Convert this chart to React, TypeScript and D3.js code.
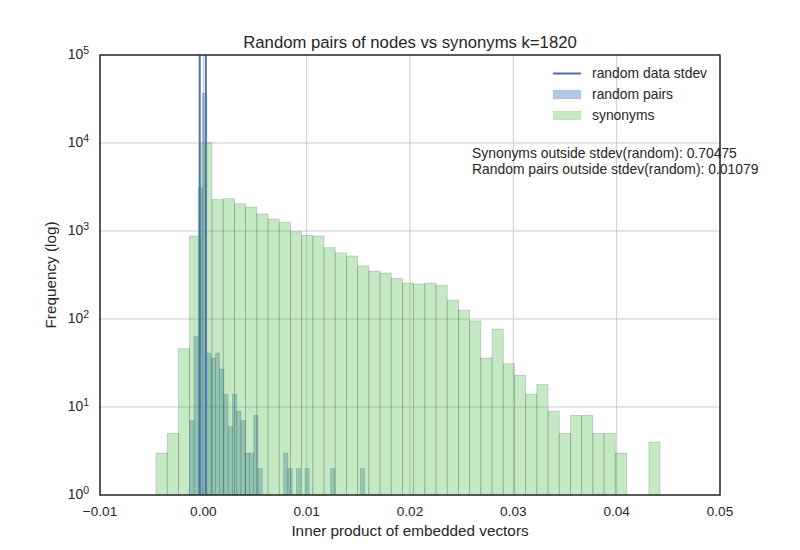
import React from "react";
import * as d3 from "d3";

const synStart = -0.00458;
const synWidth = 0.001084;
const synCounts = [3, 5, 46, 877, 10050, 2270, 2330, 2040, 1870, 1560, 1370, 1260, 980, 890, 877, 646, 564, 520, 401, 351, 333, 290, 256, 250, 256, 242, 164, 126, 95, 36, 77, 31, 23, 14, 18, 9, 5, 8, 8, 5, 5, 3, 0, 0, 4];

const rndStart = -0.001316;
const rndWidth = 0.000413;
const rndCounts = [7, 63, 3100, 36700, 41, 36, 41, 27, 14, 6, 14, 9, 7, 3, 3, 8, 2, 0, 0, 0, 0, 0, 3, 2, 0, 2, 0, 2, 0, 0, 0, 0, 0, 2, 0, 0, 0, 0, 0, 0, 2];

const stdevLines = [-0.00035, 0.00024];

const xTicks = [-0.01, 0.0, 0.01, 0.02, 0.03, 0.04, 0.05];
const xTickLabels = ["\u22120.01", "0.00", "0.01", "0.02", "0.03", "0.04", "0.05"];
const yExponents = [0, 1, 2, 3, 4, 5];

const legendItems = ["random data stdev", "random pairs", "synonyms"];
const annotations = [
  "Synonyms outside stdev(random): 0.70475",
  "Random pairs outside stdev(random): 0.01079",
];

const W = 800, H = 550;
const left = 100, right = 720, top = 55, bottom = 495;
const font = "'Liberation Sans', Arial, sans-serif";
const textColor = "#262626";

export default function App() {
  const x = d3.scaleLinear().domain([-0.01, 0.05]).range([left, right]);
  const y = d3.scaleLog().domain([1, 1e5]).range([bottom, top]);

  const bars = (start: number, w: number, counts: number[]) =>
    counts
      .map((c, i) => ({ c, x0: x(start + i * w), x1: x(start + (i + 1) * w) }))
      .filter((b) => b.c > 0);

  const rnd = bars(rndStart, rndWidth, rndCounts);
  const syn = bars(synStart, synWidth, synCounts);

  return (
    <svg width={W} height={H} style={{ position: "absolute", left: 0, top: 0, background: "#fff" }} fontFamily={font}>
      <rect x={0} y={0} width={W} height={H} fill="#fff" />
      <defs>
        <clipPath id="plot">
          <rect x={left} y={top} width={right - left} height={bottom - top} />
        </clipPath>
      </defs>
      <g stroke="#cbcbcb" strokeWidth={1}>
        {xTicks.map((t, i) => (
          <line key={"gx" + i} x1={x(t)} x2={x(t)} y1={top} y2={bottom} />
        ))}
        {yExponents.map((e) => (
          <line key={"gy" + e} x1={left} x2={right} y1={y(Math.pow(10, e))} y2={y(Math.pow(10, e))} />
        ))}
      </g>
      <g clipPath="url(#plot)">
        {rnd.map((b, i) => (
          <rect key={"r" + i} x={b.x0} width={b.x1 - b.x0} y={y(b.c)} height={bottom - y(b.c)}
            fill="rgb(29,95,189)" fillOpacity={0.35} stroke="rgba(0,0,0,0.2)" strokeWidth={0.8} />
        ))}
        {syn.map((b, i) => (
          <rect key={"s" + i} x={b.x0} width={b.x1 - b.x0} y={y(b.c)} height={bottom - y(b.c)}
            fill="rgb(89,192,86)" fillOpacity={0.35} stroke="rgba(0,0,0,0.18)" strokeWidth={0.8} />
        ))}
        {stdevLines.map((v, i) => (
          <line key={"v" + i} x1={x(v)} x2={x(v)} y1={top} y2={bottom} stroke="#4c72b0" strokeWidth={2} />
        ))}
      </g>
      <g fontSize={13.9} fill={textColor}>
        <line x1={553} x2={581} y1={73.5} y2={73.5} stroke="#4c72b0" strokeWidth={2} />
        <rect x={553} y={90} width={28} height={9} fill="rgb(29,95,189)" fillOpacity={0.35} stroke="rgba(0,0,0,0.1)" strokeWidth={0.5} />
        <rect x={553} y={111} width={28} height={9} fill="rgb(89,192,86)" fillOpacity={0.35} stroke="rgba(0,0,0,0.1)" strokeWidth={0.5} />
        {legendItems.map((t, i) => (
          <text key={"l" + i} x={592} y={73.5 + i * 21} dy="0.35em">{t}</text>
        ))}
      </g>
      <g fontSize={13.9} fill={textColor}>
        {annotations.map((t, i) => (
          <text key={"a" + i} x={472} y={153 + i * 16} dy="0.35em">{t}</text>
        ))}
      </g>
      <rect x={left} y={top} width={right - left} height={bottom - top} fill="none" stroke="#2a2a2a" strokeWidth={1.5} />
      <g fontSize={13.6} fill={textColor} textAnchor="middle">
        {xTicks.map((t, i) => (
          <text key={"xt" + i} x={x(t)} y={511} dy="0.35em">{xTickLabels[i]}</text>
        ))}
      </g>
      <g fontSize={13.9} fill={textColor} textAnchor="end">
        {yExponents.map((e) => (
          <text key={"yt" + e} x={89} y={y(Math.pow(10, e)) - 1} dy="0.35em">
            10<tspan fontSize={10.5} dy="-0.45em">{String(e)}</tspan>
          </text>
        ))}
      </g>
      <text x={(left + right) / 2} y={531} dy="0.35em" textAnchor="middle" fontSize={15.3} fill={textColor}>
        Inner product of embedded vectors
      </text>
      <text transform={`translate(51,${(top + bottom) / 2}) rotate(-90)`} textAnchor="middle" dy="0.35em" fontSize={15.3} fill={textColor}>
        Frequency (log)
      </text>
      <text x={(left + right) / 2} y={42} dy="0.35em" textAnchor="middle" fontSize={16.7} fill={textColor}>
        Random pairs of nodes vs synonyms k=1820
      </text>
    </svg>
  );
}
